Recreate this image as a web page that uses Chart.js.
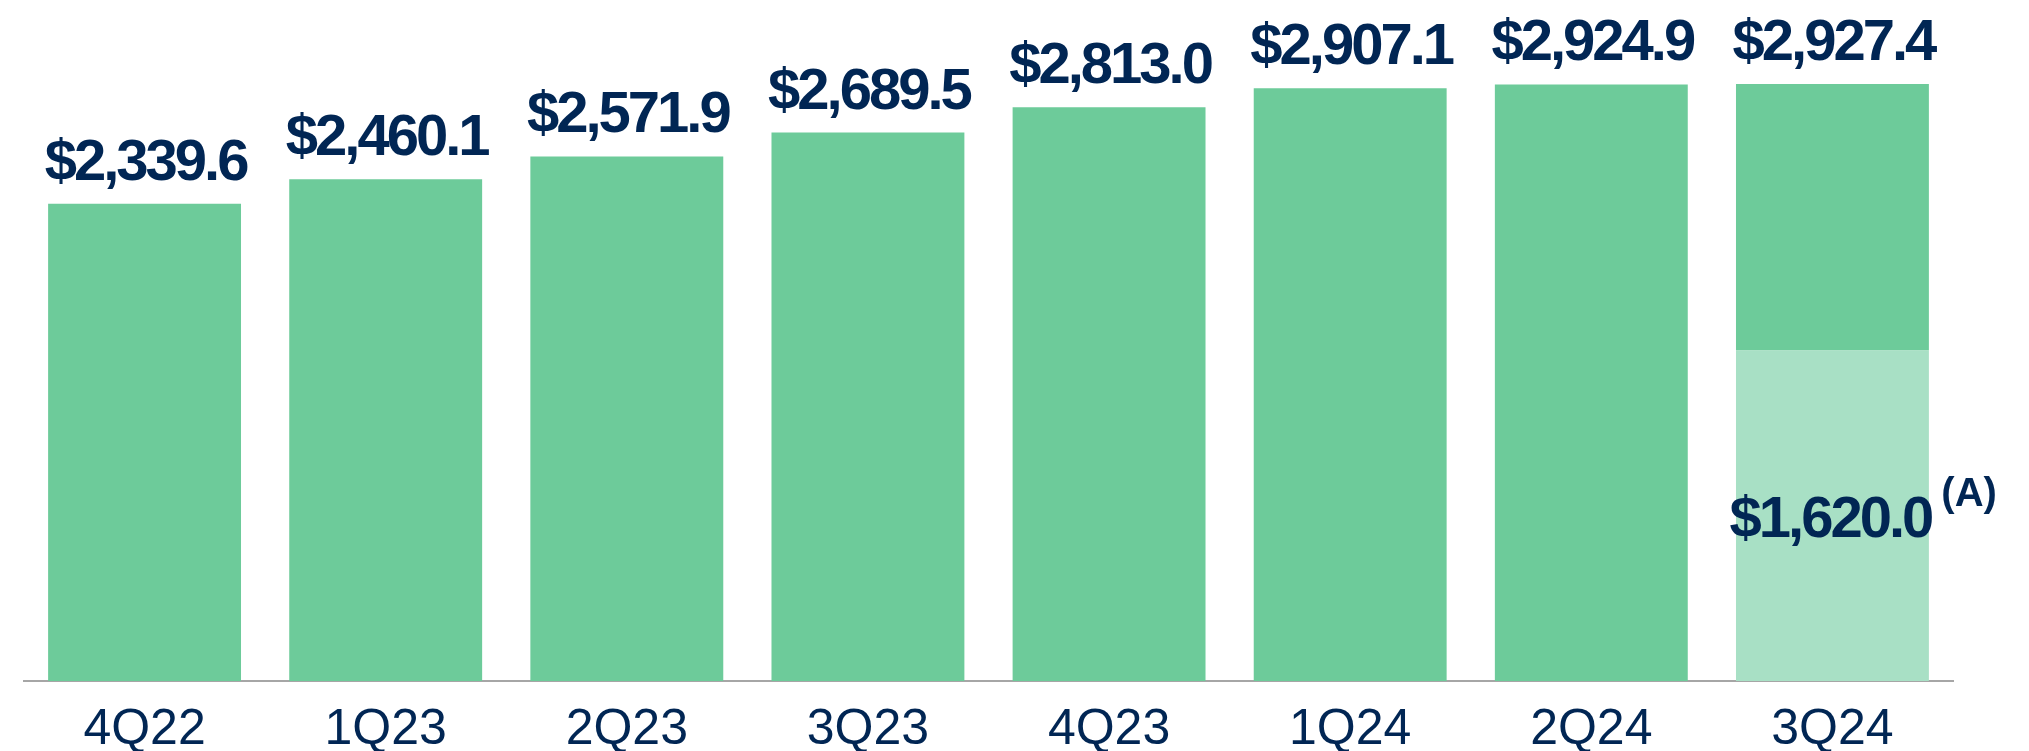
<!DOCTYPE html>
<html>
<head>
<meta charset="utf-8">
<script src="https://cdn.jsdelivr.net/npm/chart.js@4/dist/chart.umd.min.js"></script>
<style>
  html, body { margin: 0; padding: 0; background: #fff; }
  #wrap { width: 2029px; height: 751px; }
</style>
</head>
<body>
<div id="wrap"><canvas id="chart" width="2029" height="751"></canvas></div>
<script>
// --- Data --- //
const quarters = ['4Q22', '1Q23', '2Q23', '3Q23', '4Q23', '1Q24', '2Q24', '3Q24'];
const totals = [2339.6, 2460.1, 2571.9, 2689.5, 2813.0, 2907.1, 2924.9, 2927.4];
// light base part, only in 3Q24
const baseValues = [null, null, null, null, null, null, null, 1620.0];
const topValues = [2339.6, 2460.1, 2571.9, 2689.5, 2813.0, 2907.1, 2924.9, 1307.4];
const baseNote = '(A)';

const NAVY = '#012654';
const GREEN = '#6DCB9A';
const LIGHT_GREEN = '#A8E0C5';
const FONT = '"Liberation Sans", Arial, sans-serif';

function money(v) {
    return '$' + v.toLocaleString('en-US', { minimumFractionDigits: 1, maximumFractionDigits: 1 });
}

// draws the totals above bars and the base label inside 3Q24
const valueLabels = {
    id: 'valueLabels',
    afterDatasetsDraw(chart) {
        const ctx = chart.ctx;
        const topMeta = chart.getDatasetMeta(1);
        const baseMeta = chart.getDatasetMeta(0);
        ctx.save();
        ctx.fillStyle = NAVY;
        ctx.font = 'bold 58px ' + FONT;
        ctx.letterSpacing = '-3px';
        ctx.textAlign = 'center';
        ctx.textBaseline = 'alphabetic';
        topMeta.data.forEach((bar, i) => {
            ctx.fillText(money(totals[i]), bar.x + 1, bar.y - 24);
        });
        baseMeta.data.forEach((bar, i) => {
            if (baseValues[i] == null) return;
            const txt = money(baseValues[i]);
            const mid = (bar.y + bar.base) / 2;
            const cx = bar.x - 2;
            ctx.textAlign = 'center';
            ctx.font = 'bold 58px ' + FONT;
            ctx.fillText(txt, cx, mid + 21);
            const w = ctx.measureText(txt).width;
            ctx.textAlign = 'left';
            ctx.font = 'bold 40px ' + FONT;
            ctx.letterSpacing = '0px';
            ctx.fillText(baseNote, cx + w / 2 + 10, mid - 10);
        });
        ctx.restore();
    }
};

const ctx = document.getElementById('chart').getContext('2d');
new Chart(ctx, {
    type: 'bar',
    data: {
        labels: quarters,
        datasets: [
            {
                label: 'Base',
                data: baseValues,
                backgroundColor: LIGHT_GREEN,
                borderWidth: 0,
                categoryPercentage: 1.0,
                barPercentage: 0.8
            },
            {
                label: 'Total',
                data: topValues,
                backgroundColor: GREEN,
                borderWidth: 0,
                categoryPercentage: 1.0,
                barPercentage: 0.8
            }
        ]
    },
    options: {
        responsive: false,
        animation: false,
        devicePixelRatio: 1,
        layout: { padding: { top: 8, left: 24, right: 76, bottom: 0 } },
        scales: {
            x: {
                stacked: true,
                afterFit(scale) { scale.height = 70; },
                grid: { display: false, drawTicks: false },
                border: { display: true, color: '#a6a6a6', width: 2 },
                ticks: {
                    color: NAVY,
                    padding: 30,
                    font: { family: FONT, size: 50, lineHeight: 0.77 }
                }
            },
            y: {
                stacked: true,
                display: false,
                min: 0,
                max: 3300
            }
        },
        plugins: {
            legend: { display: false },
            tooltip: { enabled: false }
        }
    },
    plugins: [valueLabels]
});
</script>
</body>
</html>
